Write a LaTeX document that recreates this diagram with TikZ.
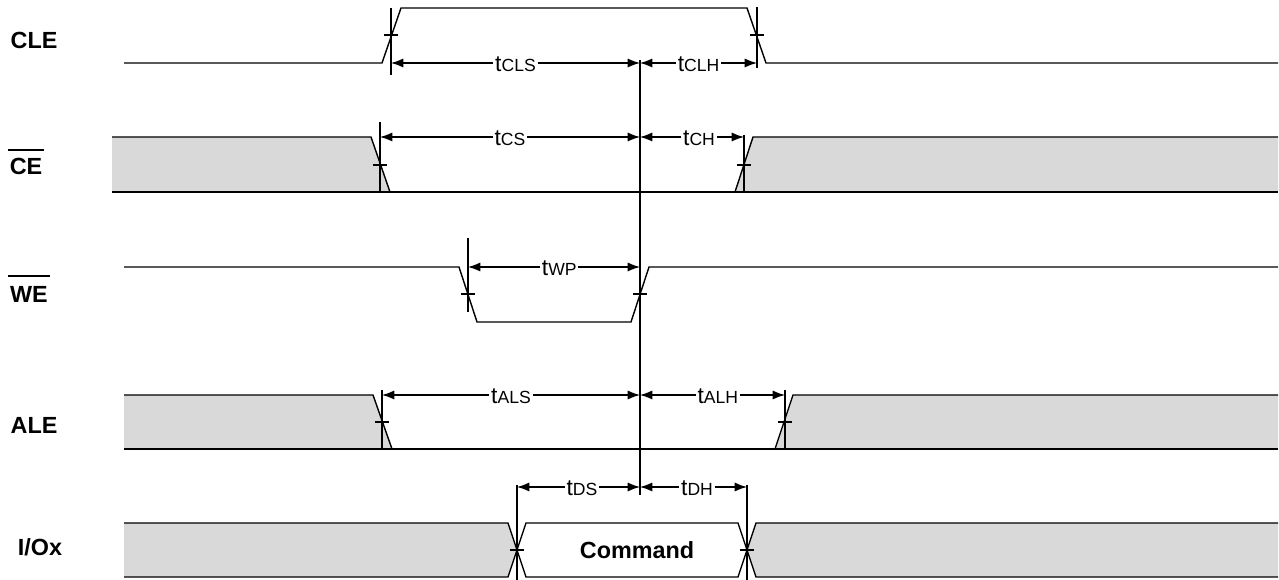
\documentclass[tikz,border=0pt]{standalone}
\usepackage{fontspec}
\setmainfont{Liberation Sans}
\usetikzlibrary{arrows.meta}
\begin{document}
\begin{tikzpicture}[x=0.02cm,y=-0.02cm,
  sig/.style={line width=0.8pt, line join=miter},
  vline/.style={line width=0.6pt},
  shadefill/.style={fill=black!15},
  dim/.style={line width=0.7pt,{Latex[length=7pt,width=5.2pt]}-{Latex[length=7pt,width=5.2pt]}},
  tlab/.style={fill=white, inner sep=1pt, anchor=base, yshift=-5pt, font=\fontsize{13}{13}\selectfont},
  signame/.style={inner sep=0pt, font=\bfseries\fontsize{13.3}{13.3}\selectfont},
  ovl/.style={line width=1.4pt}
]
\useasboundingbox (0,0) rectangle (1279,580);

% ---------- signal names ----------
\node[signame] (nCLE) at (34,40) {CLE};
\node[signame] (nCE) at (26,166) {CE};
\coordinate (ceOL) at (8,150);
\coordinate (ceOR) at (44,150);
\draw[ovl] (ceOL) -- (ceOR);
\node[signame] (nWE) at (29,294) {WE};
\coordinate (weOL) at (8,276);
\coordinate (weOR) at (50,276);
\draw[ovl] (weOL) -- (weOR);
\node[signame] (nALE) at (34,425) {ALE};
\node[signame] (nIO) at (40,547) {I/Ox};

% ---------- center reference line ----------
\coordinate (cTop) at (640,60);
\coordinate (cBot) at (640,495);
\draw[line width=0.8pt] (cTop) -- (cBot);

% ---------- CLE ----------
\draw[sig] (124,63) -- (382,63) -- (401,8) -- (747,8) -- (766,63) -- (1278,63);
\coordinate (cleA) at (391,63);
\coordinate (cleB) at (757,63);
\coordinate (cleC) at (640,63);
\draw[vline] (391,8) -- (391,75);
\draw[vline] (384,35) -- (398,35);
\draw[vline] (757,7) -- (757,68);
\draw[vline] (750,35) -- (764,35);
\draw[dim] (cleA) -- node[tlab] (lCLS) {t{\fontsize{10}{10}\selectfont CLS}} (cleC);
\draw[dim] (cleC) -- node[tlab] (lCLH) {t{\fontsize{10}{10}\selectfont CLH}} (cleB);

% ---------- CE ----------
\fill[shadefill] (112,137) -- (371,137) -- (390,192) -- (112,192) -- cycle;
\fill[shadefill] (753,137) -- (1278,137) -- (1278,192) -- (735,192) -- cycle;
\draw[sig] (112,137) -- (371,137) -- (390,192);
\draw[sig] (112,192) -- (1278,192);
\draw[sig] (735,192) -- (753,137) -- (1278,137);
\coordinate (ceA) at (380,137);
\coordinate (ceB) at (744,137);
\coordinate (ceC) at (640,137);
\draw[vline] (380,122) -- (380,193);
\draw[vline] (373,165) -- (387,165);
\draw[vline] (744,135) -- (744,193);
\draw[vline] (737,165) -- (751,165);
\draw[dim] (ceA) -- node[tlab] (lCS) {t{\fontsize{10}{10}\selectfont CS}} (ceC);
\draw[dim] (ceC) -- node[tlab,xshift=4pt] (lCH) {t{\fontsize{10}{10}\selectfont CH}} (ceB);

% ---------- WE ----------
\draw[sig] (124,267) -- (459,267) -- (477,322) -- (631,322) -- (649,267) -- (1278,267);
\coordinate (weA) at (468,267);
\coordinate (weC) at (640,267);
\draw[vline] (468,238) -- (468,312);
\draw[vline] (461,294) -- (475,294);
\draw[vline] (633,294) -- (647,294);
\draw[dim] (weA) -- node[tlab,xshift=3pt] (lWP) {t{\fontsize{10}{10}\selectfont WP}} (weC);

% ---------- ALE ----------
\fill[shadefill] (124,395) -- (373,395) -- (392,449) -- (124,449) -- cycle;
\fill[shadefill] (793,395) -- (1278,395) -- (1278,449) -- (775,449) -- cycle;
\draw[sig] (124,395) -- (373,395) -- (392,449);
\draw[sig] (124,449) -- (1278,449);
\draw[sig] (775,449) -- (793,395) -- (1278,395);
\coordinate (aleA) at (382,395);
\coordinate (aleB) at (785,395);
\coordinate (aleC) at (640,395);
\draw[vline] (382,390) -- (382,450);
\draw[vline] (375,422) -- (389,422);
\draw[vline] (785,390) -- (785,450);
\draw[vline] (778,422) -- (792,422);
\draw[dim] (aleA) -- node[tlab] (lALS) {t{\fontsize{10}{10}\selectfont ALS}} (aleC);
\draw[dim] (aleC) -- node[tlab,xshift=3pt] (lALH) {t{\fontsize{10}{10}\selectfont ALH}} (aleB);

% ---------- I/Ox ----------
\fill[shadefill] (124,523) -- (508,523) -- (517,550) -- (508,577) -- (124,577) -- cycle;
\fill[shadefill] (1278,523) -- (756,523) -- (747,550) -- (756,577) -- (1278,577) -- cycle;
\draw[sig] (124,523) -- (508,523) -- (517,550) -- (508,577) -- (124,577);
\draw[sig] (1278,523) -- (756,523) -- (747,550) -- (756,577) -- (1278,577);
\draw[sig] (517,550) -- (526,523) -- (738,523) -- (747,550) -- (738,577) -- (526,577) -- cycle;
\node[signame] (cmd) at (637,550) {Command};
\coordinate (ioA) at (517,487);
\coordinate (ioB) at (747,487);
\coordinate (ioC) at (640,487);
\draw[vline] (517,485) -- (517,580);
\draw[vline] (510,550) -- (524,550);
\draw[vline] (747,485) -- (747,580);
\draw[vline] (740,550) -- (754,550);
\draw[dim] (ioA) -- node[tlab,xshift=2pt] (lDS) {t{\fontsize{10}{10}\selectfont DS}} (ioC);
\draw[dim] (ioC) -- node[tlab,xshift=2pt] (lDH) {t{\fontsize{10}{10}\selectfont DH}} (ioB);
\end{tikzpicture}
\end{document}
